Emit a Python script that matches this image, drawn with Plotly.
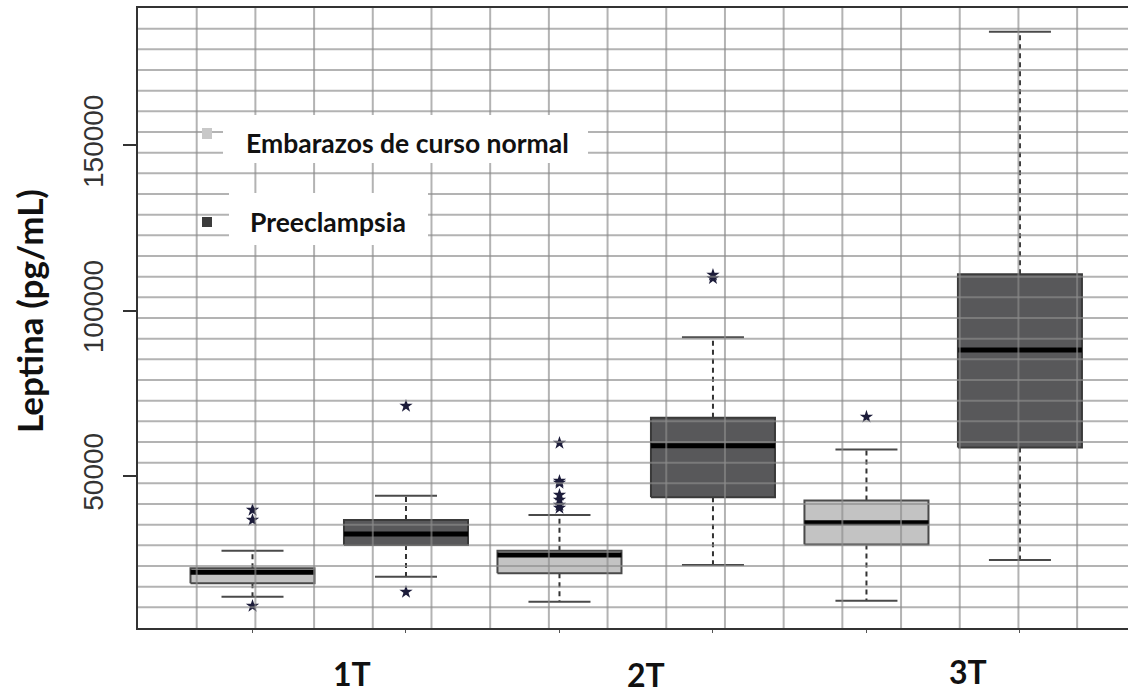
import plotly.graph_objects as go

# ---------------- data ----------------
trimesters = ["1T", "2T", "3T"]
series_names = ["Embarazos de curso normal", "Preeclampsia"]
positions = [1, 2, 3, 4, 5, 6]
box_series = [0, 1, 0, 1, 0, 1]          # index into series_names
q1 = [17534, 29123, 20560, 43555, 29274, 58654]
median = [20862, 32451, 26097, 59168, 35840, 88124]
q3 = [22073, 36687, 27398, 67640, 42617, 111059]
lower_whisker = [13480, 19531, 11967, 23071, 12269, 24584]
upper_whisker = [27398, 44039, 38200, 91967, 58048, 184402]
outliers = [
    [39713, 36687, 10666],
    [71180, 14902],
    [59985, 48487, 47882, 44251, 42738, 41225, 40318],
    [110817, 109818],
    [67912],
    [],
]
y_ticks = [50000, 100000, 150000]
y_tick_labels = ["50000", "100000", "150000"]
trimester_label_x = [1.648, 3.564, 5.661]

# ---------------- style ----------------
fill_colors = ["#c3c3c3", "#58585a"]
border_colors = ["#4a4a4a", "#3a3a3a"]
BOX_W = 0.808
CAP_W = 0.404
X_RANGE = [0.254, 6.704]
Y_RANGE = [4009, 191600]
PLOT_L, PLOT_R, PLOT_T, PLOT_B = 138, 1128, 8, 628

def px_x(px):
    return (px - PLOT_L) / (PLOT_R - PLOT_L)

def px_y(py):
    return (PLOT_B - py) / (PLOT_B - PLOT_T)

fig = go.Figure()

for i, p in enumerate(positions):
    s = box_series[i]
    l, r = p - BOX_W / 2, p + BOX_W / 2
    # whiskers (dashed)
    fig.add_trace(go.Scatter(
        x=[p, p, None, p, p], y=[q3[i], upper_whisker[i], None, q1[i], lower_whisker[i]],
        mode="lines", line=dict(color="#333333", width=2, dash="5px,4px"),
        hoverinfo="skip", showlegend=False))
    # caps
    fig.add_trace(go.Scatter(
        x=[p - CAP_W / 2, p + CAP_W / 2, None, p - CAP_W / 2, p + CAP_W / 2],
        y=[upper_whisker[i], upper_whisker[i], None, lower_whisker[i], lower_whisker[i]],
        mode="lines", line=dict(color="#4a4a4a", width=2),
        hoverinfo="skip", showlegend=False))
    # box
    fig.add_trace(go.Scatter(
        x=[l, r, r, l, l], y=[q1[i], q1[i], q3[i], q3[i], q1[i]],
        mode="lines", fill="toself", fillcolor=fill_colors[s],
        line=dict(color=border_colors[s], width=2),
        name=series_names[s], hoverinfo="skip", showlegend=False))
    # median
    fig.add_trace(go.Scatter(
        x=[l, r], y=[median[i], median[i]], mode="lines",
        line=dict(color="#000000", width=5), hoverinfo="skip", showlegend=False))
    # outliers
    if outliers[i]:
        fig.add_trace(go.Scatter(
            x=[p] * len(outliers[i]), y=outliers[i], mode="markers",
            marker=dict(symbol="star", size=10, color="#1c1c3a",
                        line=dict(width=0)),
            hoverinfo="skip", showlegend=False))

shapes = []
grid_line = dict(color="rgba(140,140,140,0.66)", width=2)
dx = 58.7 / 153.5
xs = X_RANGE[0] + dx
while xs < X_RANGE[1] - 1e-6:
    shapes.append(dict(type="line", xref="x", yref="paper", x0=xs, x1=xs, y0=0, y1=1,
                       line=grid_line, layer="above"))
    xs += dx
dy = (Y_RANGE[1] - Y_RANGE[0]) / 30
for k in range(1, 30):
    yv = Y_RANGE[0] + k * dy
    shapes.append(dict(type="line", xref="paper", yref="y", x0=0, x1=1, y0=yv, y1=yv,
                       line=grid_line, layer="above"))

# legend backgrounds
shapes.append(dict(type="rect", xref="paper", yref="paper",
                   x0=px_x(223), x1=px_x(588), y0=px_y(163), y1=px_y(115),
                   fillcolor="white", line=dict(width=0), layer="above"))
shapes.append(dict(type="rect", xref="paper", yref="paper",
                   x0=px_x(229), x1=px_x(428), y0=px_y(245), y1=px_y(193),
                   fillcolor="white", line=dict(width=0), layer="above"))
# legend keys
shapes.append(dict(type="rect", xref="paper", yref="paper",
                   x0=px_x(202), x1=px_x(212), y0=px_y(139), y1=px_y(128),
                   fillcolor="#c8c8c8", line=dict(width=0), layer="above"))
shapes.append(dict(type="rect", xref="paper", yref="paper",
                   x0=px_x(202), x1=px_x(212), y0=px_y(227), y1=px_y(217),
                   fillcolor="#3c3c3c", line=dict(width=0), layer="above"))

bold_font = dict(family="Lato", size=26.5, color="#111111")
annotations = [
    dict(text="<b>" + series_names[0] + "</b>", xref="paper", yref="paper",
         x=px_x(244), y=px_y(143), xanchor="left", yanchor="middle",
         showarrow=False, font=bold_font),
    dict(text="<b>" + series_names[1] + "</b>", xref="paper", yref="paper",
         x=px_x(248), y=px_y(222), xanchor="left", yanchor="middle",
         showarrow=False, font=bold_font),
    dict(text="<b>Leptina (pg/mL)</b>", xref="paper", yref="paper",
         x=px_x(29), y=px_y(311), xanchor="center", yanchor="middle",
         textangle=-90, showarrow=False,
         font=dict(family="Lato", size=35, color="#111111")),
]
label_y_px = [673, 674, 671]
for t, xv, ypx in zip(trimesters, trimester_label_x, label_y_px):
    annotations.append(dict(text="<b>" + t + "</b>", xref="x", yref="paper",
                            x=xv, y=px_y(ypx), xanchor="center", yanchor="middle",
                            showarrow=False,
                            font=dict(family="Lato", size=32, color="#111111")))

fig.update_layout(
    width=1128, height=696,
    margin=dict(l=PLOT_L, r=1128 - PLOT_R, t=PLOT_T, b=696 - PLOT_B),
    paper_bgcolor="white", plot_bgcolor="white",
    shapes=shapes, annotations=annotations, showlegend=False,
    xaxis=dict(range=X_RANGE, showgrid=False, zeroline=False, showline=True,
               mirror=True, linecolor="#333333", linewidth=2,
               tickvals=positions, ticks="outside", ticklen=3, tickcolor="#555555",
               showticklabels=False, fixedrange=True),
    yaxis=dict(range=Y_RANGE, showgrid=False, zeroline=False, showline=True,
               linecolor="#333333", linewidth=2,
               tickvals=y_ticks, ticktext=y_tick_labels, ticks="outside",
               ticklen=13, tickwidth=2, tickcolor="#333333", tickangle=-90,
               ticklabelstandoff=9,
               tickfont=dict(family="Liberation Sans", size=28, color="#333333"),
               fixedrange=True),
)

fig.write_html("out.html")
